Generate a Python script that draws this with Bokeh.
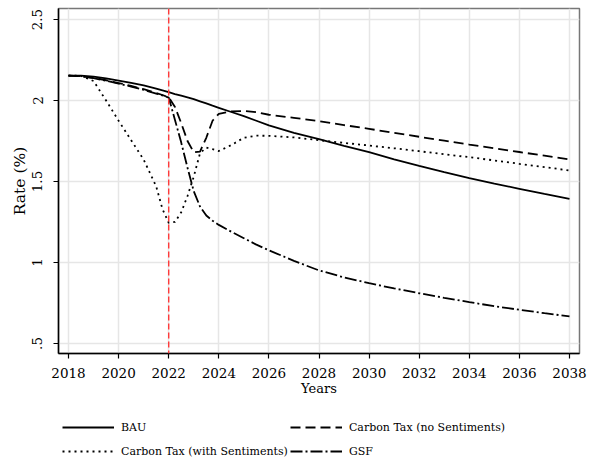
from bokeh.plotting import figure
from bokeh.layouts import column
from bokeh.models import Range1d, FixedTicker, Span, Legend, LegendItem
from bokeh.embed import file_html
from bokeh.resources import INLINE

# ---- data ----
years = [2018, 2018.5, 2019, 2019.5, 2020, 2020.5, 2021, 2021.5, 2021.75, 2022,
         2022.25, 2022.5, 2022.75, 2023, 2023.25, 2023.5, 2023.75, 2024, 2024.5,
         2025, 2025.5, 2026, 2027, 2028, 2029, 2030, 2031, 2032, 2033, 2034,
         2035, 2036, 2037, 2038]

bau = [2.154, 2.153, 2.148, 2.137, 2.123, 2.109, 2.093, 2.073, 2.062, 2.051,
       2.040, 2.030, 2.019, 2.008, 1.995, 1.982, 1.968, 1.955, 1.929,
       1.903, 1.875, 1.846, 1.800, 1.762, 1.720, 1.681, 1.637, 1.597, 1.558, 1.521,
       1.487, 1.455, 1.423, 1.393]

carbon_no_sent = [2.154, 2.150, 2.140, 2.125, 2.108, 2.090, 2.070, 2.046, 2.034, 2.020,
                  1.960, 1.860, 1.750, 1.680, 1.685, 1.770, 1.875, 1.918, 1.933,
                  1.935, 1.928, 1.912, 1.893, 1.872, 1.848, 1.825, 1.800, 1.776, 1.752, 1.728,
                  1.705, 1.682, 1.659, 1.636]

carbon_with_sent = [2.154, 2.152, 2.120, 2.000, 1.875, 1.755, 1.635, 1.470, 1.330, 1.245,
                    1.250, 1.310, 1.410, 1.530, 1.675, 1.710, 1.700, 1.688, 1.725,
                    1.770, 1.783, 1.782, 1.772, 1.755, 1.738, 1.722, 1.705, 1.687, 1.668, 1.650,
                    1.630, 1.609, 1.589, 1.568]

gsf = [2.154, 2.150, 2.138, 2.122, 2.104, 2.086, 2.066, 2.043, 2.031, 2.018,
       1.880, 1.740, 1.585, 1.440, 1.345, 1.290, 1.258, 1.232, 1.190,
       1.150, 1.110, 1.075, 1.010, 0.951, 0.908, 0.872, 0.840, 0.810, 0.782, 0.755,
       0.730, 0.708, 0.687, 0.667]

policy_year = 2022

series_names = ["BAU", "Carbon Tax (no Sentiments)", "Carbon Tax (with Sentiments)", "GSF"]

x_ticks = [2018, 2020, 2022, 2024, 2026, 2028, 2030, 2032, 2034, 2036, 2038]
y_ticks = [0.5, 1, 1.5, 2, 2.5]
y_tick_labels = [".5", "1", "1.5", "2", "2.5"]

FONT = "DejaVu Serif"

# line styles per series
styles = [dict(line_color="black", line_width=1.8),
          dict(line_color="black", line_width=1.8, line_dash="10 5"),
          dict(line_color="black", line_width=1.8, line_dash="2 4"),
          dict(line_color="black", line_width=1.8, line_dash="12 3 2 3")]

p = figure(width=596, height=400, output_backend="svg", toolbar_location=None,
           x_range=Range1d(2017.6, 2038.4), y_range=Range1d(0.438, 2.568),
           min_border_left=58, min_border_right=17, min_border_top=8,
           min_border_bottom=47)

p.background_fill_color = "white"
p.border_fill_color = "white"
p.outline_line_color = "#777777"
p.outline_line_width = 1.5

# grids
for g in (p.xgrid, p.ygrid):
    g.grid_line_color = "#e6e6e6"
    g.grid_line_width = 1.5

# axes
p.xaxis.ticker = FixedTicker(ticks=x_ticks)
p.yaxis.ticker = FixedTicker(ticks=y_ticks)
p.yaxis.major_label_overrides = {t: l for t, l in zip(y_ticks, y_tick_labels)}
p.yaxis.major_label_orientation = "vertical"
for ax in (p.xaxis, p.yaxis):
    ax.axis_line_color = "black"
    ax.axis_line_width = 1.5
    ax.major_tick_line_color = "black"
    ax.major_tick_line_width = 1.2
    ax.major_tick_out = 5
    ax.major_tick_in = 0
    ax.minor_tick_out = 0
    ax.minor_tick_in = 0
    ax.major_label_text_font = FONT
    ax.major_label_text_font_size = "13.5px"
    ax.major_label_text_color = "black"
    ax.axis_label_text_font = FONT
    ax.axis_label_text_font_style = "normal"
    ax.axis_label_text_color = "black"

p.xaxis.axis_label = "Years"
p.xaxis.axis_label_text_font_size = "13px"
p.xaxis.major_label_standoff = 9
p.xaxis.axis_label_standoff = 0
p.yaxis.axis_label = "Rate (%)"
p.yaxis.axis_label_text_font_size = "15.5px"
p.yaxis.major_label_standoff = 11
p.yaxis.axis_label_standoff = 1

# vertical policy line
p.add_layout(Span(location=policy_year, dimension="height", line_color="#ff3b3b",
                  line_width=1.4, line_dash="6 3"))

# series
all_series = [bau, carbon_no_sent, carbon_with_sent, gsf]
for vals, st in zip(all_series, styles):
    p.line(years, vals, **st)

# ---- legend strip below the plot ----
# the key renderers draw the same series, but outside this strip's visible range
leg = figure(width=596, height=65, output_backend="svg", toolbar_location=None,
             x_axis_type=None, y_axis_type=None,
             x_range=Range1d(0, 1), y_range=Range1d(0, 1),
             min_border_left=0, min_border_right=0, min_border_top=0,
             min_border_bottom=0)
leg.outline_line_color = None
leg.background_fill_color = "white"
leg.border_fill_color = "white"

keys = [leg.line(years, vals, **st) for vals, st in zip(all_series, styles)]

legend = Legend(items=[LegendItem(label=n, renderers=[r]) for n, r in zip(series_names, keys)],
                orientation="horizontal", ncols=2,
                location=(4, 3), margin=0, padding=0, spacing=2,
                glyph_width=52, glyph_height=22, label_height=22,
                label_standoff=7, label_text_font=FONT,
                label_text_font_size="11px", label_text_color="black",
                border_line_alpha=0, background_fill_alpha=0)
leg.add_layout(legend)

layout = column(p, leg, spacing=0)

open("out.html", "w").write(file_html(layout, INLINE))
